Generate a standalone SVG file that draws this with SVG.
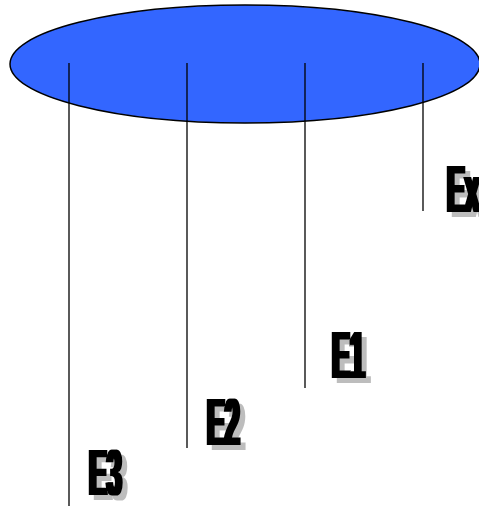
<svg xmlns="http://www.w3.org/2000/svg" width="479" height="506" viewBox="0 0 479 506">
  <defs>
    <filter id="impact" filterUnits="userSpaceOnUse" x="0" y="0" width="479" height="506" color-interpolation-filters="sRGB">
      <feMorphology in="SourceGraphic" operator="dilate" radius="1.7 0" result="d"/>
      <feOffset in="d" dx="5" dy="5" result="o"/>
      <feFlood flood-color="#bdbdbd"/>
      <feComposite in2="o" operator="in" result="sh"/>
      <feGaussianBlur in="sh" stdDeviation="0.7" result="shb"/>
      <feMerge>
        <feMergeNode in="shb"/>
        <feMergeNode in="d"/>
      </feMerge>
    </filter>
  </defs>
  <style>
    .lbl { font-family: "Liberation Sans", "DejaVu Sans", sans-serif; font-weight: bold; font-size: 67px; fill: #000; }
    .conn { stroke: #000; stroke-width: 1.3; fill: none; }
  </style>
  <rect width="479" height="506" fill="#fff"/>
  <g id="disk">
    <ellipse cx="245" cy="64" rx="235" ry="59" fill="#3366ff" stroke="#000" stroke-width="1.5"/>
  </g>
  <g id="connectors">
    <line class="conn" x1="69" y1="63" x2="69" y2="506"/>
    <line class="conn" x1="187" y1="63" x2="187" y2="448"/>
    <line class="conn" x1="305" y1="63" x2="305" y2="388"/>
    <line class="conn" x1="423" y1="63" x2="423" y2="211"/>
  </g>
  <g id="label-ex" filter="url(#impact)">
    <text class="lbl" transform="translate(447,212) scale(0.4,1)">Ex</text>
  </g>
  <g id="label-e1" filter="url(#impact)">
    <text class="lbl" transform="translate(332,378) scale(0.4,1)">E1</text>
  </g>
  <g id="label-e2" filter="url(#impact)">
    <text class="lbl" transform="translate(207,445) scale(0.4,1)">E2</text>
  </g>
  <g id="label-e3" filter="url(#impact)">
    <text class="lbl" transform="translate(89,495) scale(0.4,0.96)">E3</text>
  </g>
</svg>
